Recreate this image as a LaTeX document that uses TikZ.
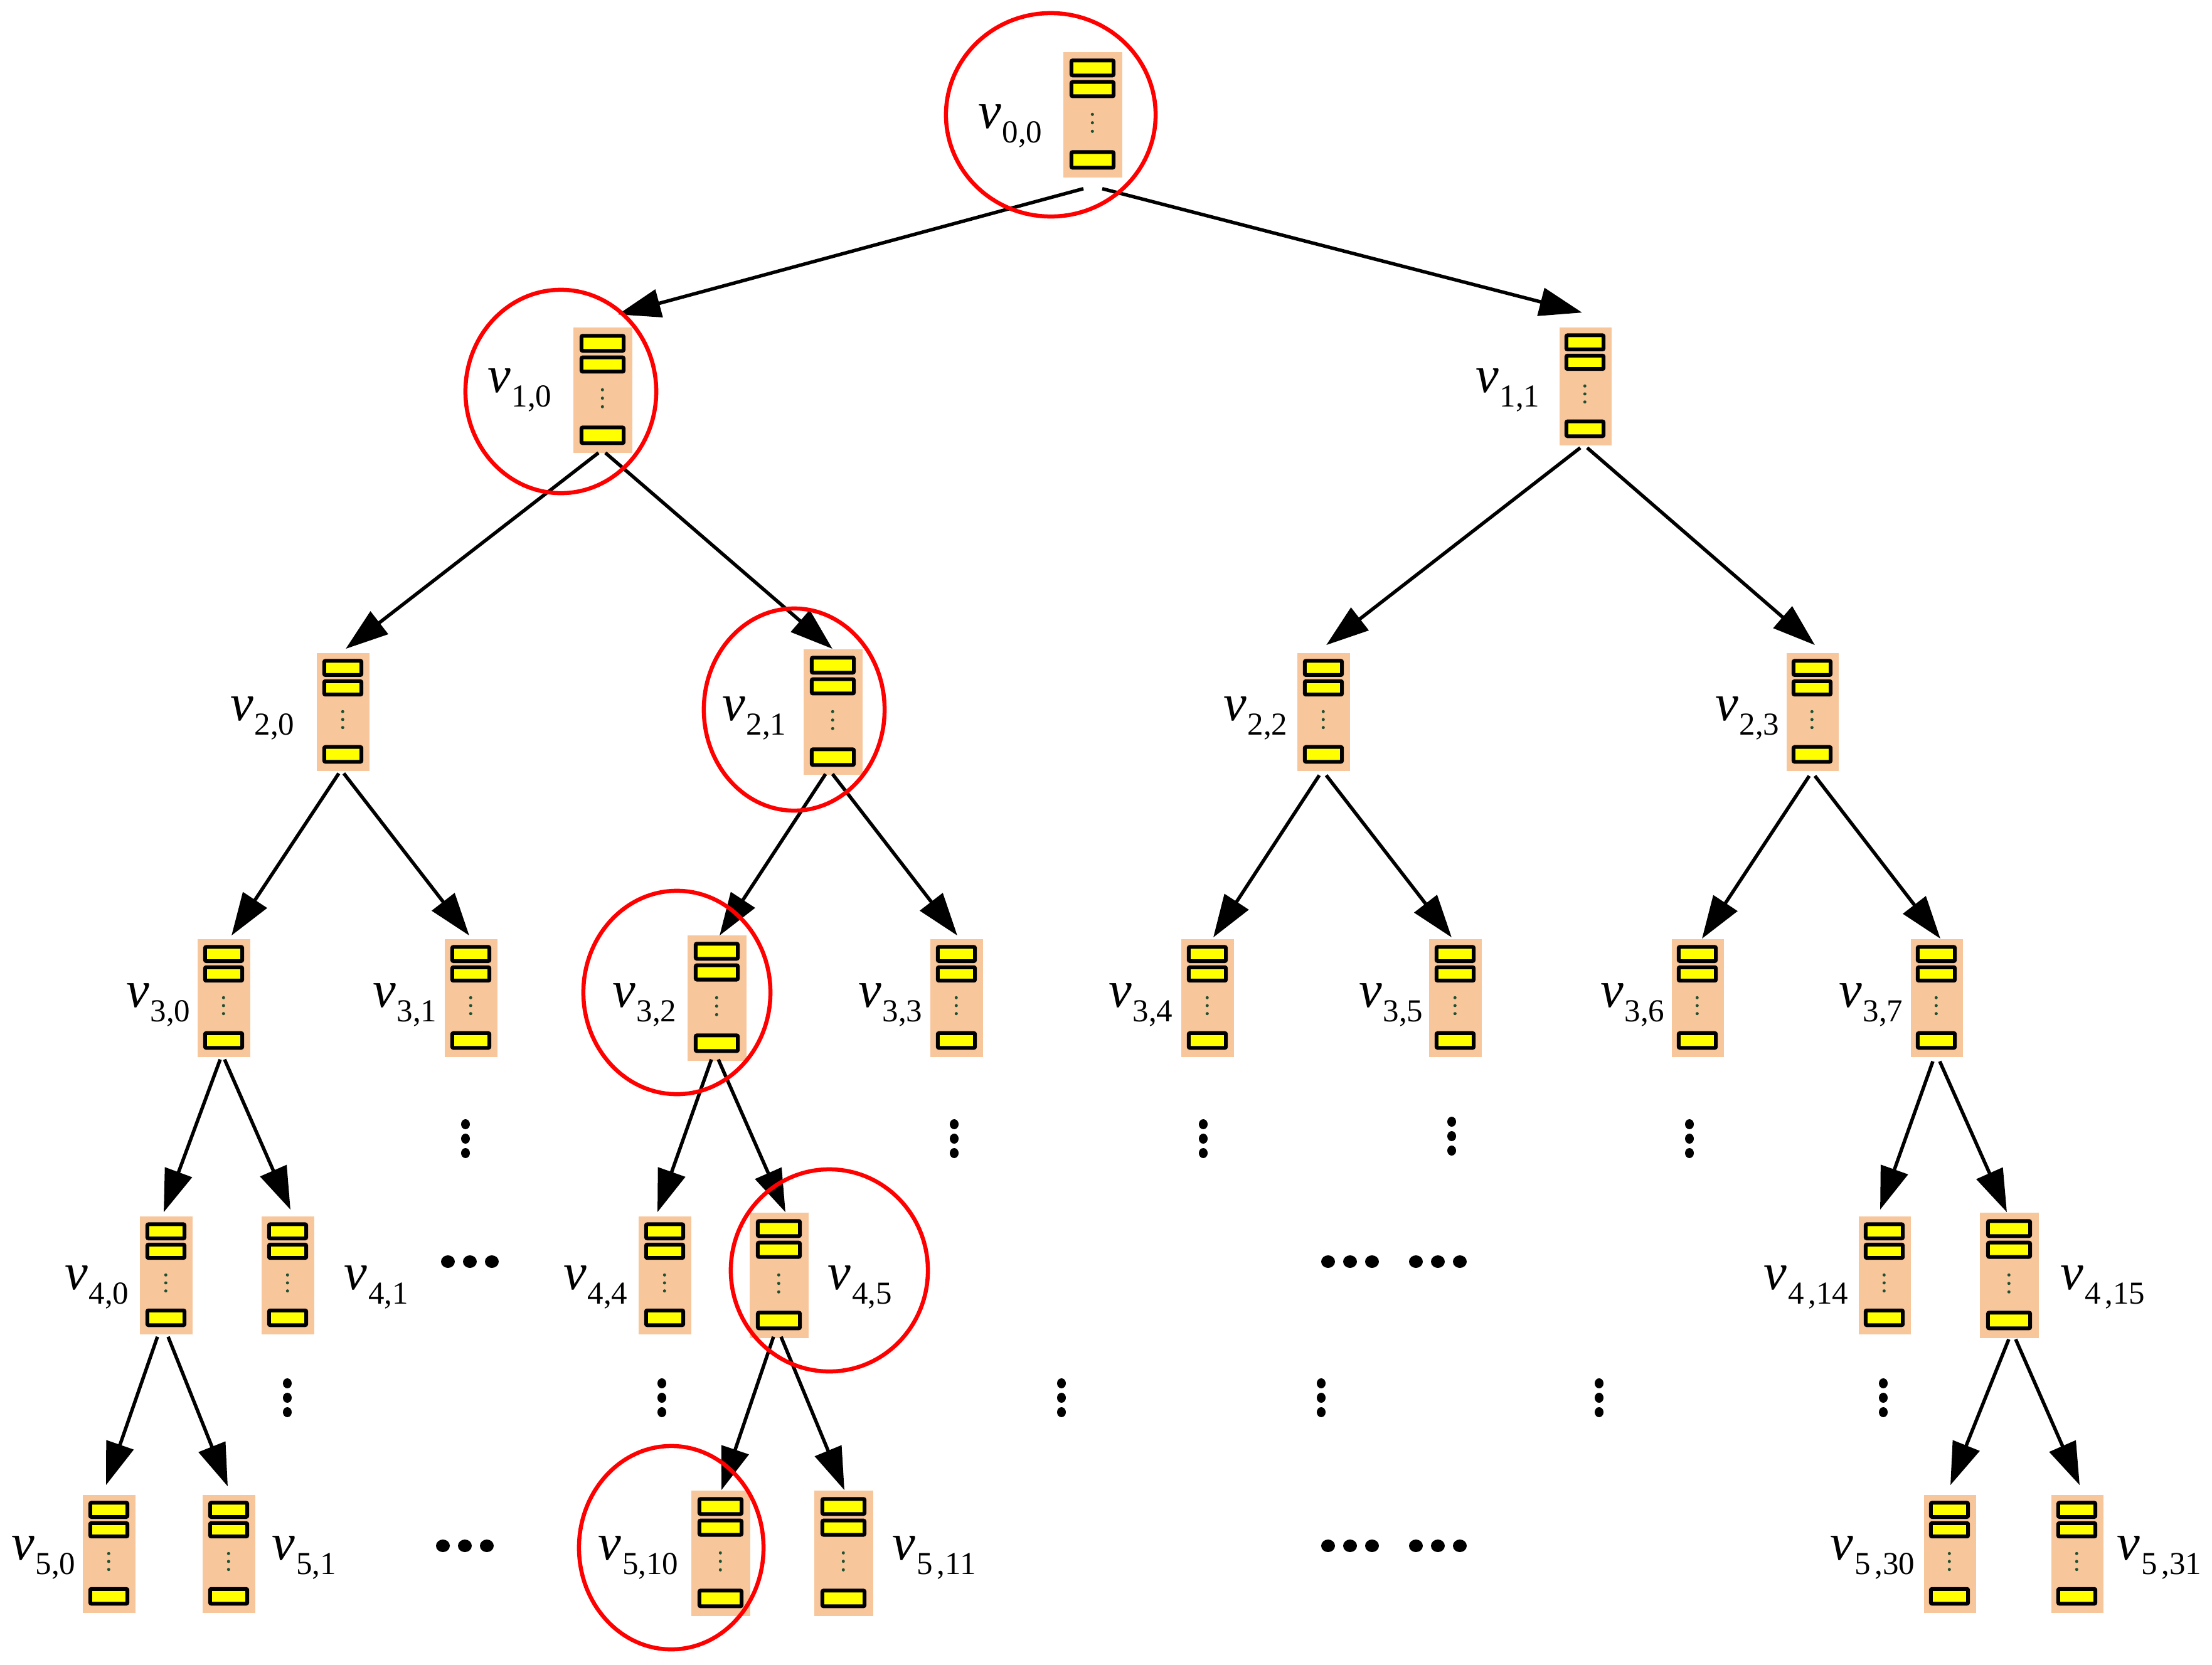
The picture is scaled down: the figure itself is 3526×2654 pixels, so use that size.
\documentclass[tikz,border=0pt]{standalone}
\usepackage{fontspec}
\setmainfont{Liberation Serif}
\usetikzlibrary{arrows.meta,calc,shapes.geometric}
\definecolor{boxfill}{RGB}{248,198,155}
\definecolor{slotyel}{RGB}{255,255,0}
\definecolor{dotgreen}{RGB}{30,80,50}
\definecolor{hlred}{RGB}{255,0,0}
\tikzset{
  srvbox/.style={rectangle, fill=boxfill, draw=none, inner sep=0pt},
  slot/.style={draw=black, fill=slotyel, line width=0.06cm, rounded corners=0.02cm},
  arr/.style={draw=black, line width=0.055cm, -{Triangle[length=0.68cm,width=0.45cm]}},
  hl/.style={ellipse, draw=hlred, line width=0.065cm, inner sep=0pt},
  lbl/.style={inner sep=0pt, font=\fontsize{23.5pt}{26pt}\selectfont},
  bigdot/.style={fill=black},
}
\newcommand{\lv}[1]{\textit{v}\kern0.5pt\raisebox{-6.8pt}{\fontsize{14.5pt}{16pt}\selectfont #1}}
\newcommand{\srv}[4]{%
  \ifnum#4=1 \def\bw{0.94cm}\def\bh{2.00cm}\else\def\bw{0.83cm}\def\bh{1.88cm}\fi
  \node[srvbox, minimum width=\bw, minimum height=\bh] (#1) at (#2,#3) {};
  \begin{scope}[shift={(#1.north west)}, x=\bw, y=-\bh]
    \draw[slot] (0.145,0.07) rectangle (0.86,0.19);
    \draw[slot] (0.145,0.242) rectangle (0.86,0.356);
    \draw[slot] (0.145,0.80) rectangle (0.86,0.925);
    \fill[dotgreen] (0.5,0.50) circle[radius=0.025cm];
    \fill[dotgreen] (0.5,0.567) circle[radius=0.025cm];
    \fill[dotgreen] (0.5,0.635) circle[radius=0.025cm];
  \end{scope}}
\newcommand{\hdots}[2]{%
  \fill[bigdot] (#1-35,#2) ellipse[x radius=0.11cm, y radius=0.10cm];
  \fill[bigdot] (#1,#2) ellipse[x radius=0.11cm, y radius=0.10cm];
  \fill[bigdot] (#1+35,#2) ellipse[x radius=0.11cm, y radius=0.10cm];}
\newcommand{\vdotsc}[2]{%
  \fill[bigdot] (#1,#2-23) ellipse[x radius=0.07cm, y radius=0.08cm];
  \fill[bigdot] (#1,#2) ellipse[x radius=0.07cm, y radius=0.08cm];
  \fill[bigdot] (#1,#2+23) ellipse[x radius=0.07cm, y radius=0.08cm];}
\begin{document}
\begin{tikzpicture}[x=0.01cm, y=-0.01cm]
\useasboundingbox (0,0) rectangle (3526,2654);
% servers
\srv{n00}{1742}{183}{1}
\srv{n10}{961}{622}{1}
\srv{n11}{2527}{616}{0}
\srv{n20}{547}{1135}{0}
\srv{n21}{1328}{1135}{1}
\srv{n22}{2110}{1135}{0}
\srv{n23}{2889}{1135}{0}
\srv{n30}{357}{1591}{0}
\srv{n31}{751}{1591}{0}
\srv{n32}{1143}{1591}{1}
\srv{n33}{1525}{1591}{0}
\srv{n34}{1925}{1591}{0}
\srv{n35}{2320}{1591}{0}
\srv{n36}{2706}{1591}{0}
\srv{n37}{3087}{1591}{0}
\srv{n40}{265}{2033}{0}
\srv{n41}{459}{2033}{0}
\srv{n44}{1060}{2033}{0}
\srv{n45}{1242}{2033}{1}
\srv{n414}{3004}{2033}{0}
\srv{n415}{3203}{2033}{1}
\srv{n50}{174}{2477}{0}
\srv{n51}{365}{2477}{0}
\srv{n510}{1149}{2476}{1}
\srv{n511}{1345}{2476}{1}
\srv{n530}{3108}{2477}{0}
\srv{n531}{3311}{2477}{0}
% labels
\node[lbl, anchor=base east] (l00) at (1662,204) {\lv{0,0}};
\node[lbl, anchor=base east] (l10) at (880,625) {\lv{1,0}};
\node[lbl, anchor=base east] (l11) at (2455,625) {\lv{1,1}};
\node[lbl, anchor=base east] (l20) at (470,1148) {\lv{2,0}};
\node[lbl, anchor=base east] (l21) at (1254,1148) {\lv{2,1}};
\node[lbl, anchor=base east] (l22) at (2053,1148) {\lv{2,2}};
\node[lbl, anchor=base east] (l23) at (2837,1148) {\lv{2,3}};
\node[lbl, anchor=base east] (l30) at (304,1605) {\lv{3,0}};
\node[lbl, anchor=base east] (l31) at (697,1605) {\lv{3,1}};
\node[lbl, anchor=base east] (l32) at (1079,1605) {\lv{3,2}};
\node[lbl, anchor=base east] (l33) at (1471,1605) {\lv{3,3}};
\node[lbl, anchor=base east] (l34) at (1870,1605) {\lv{3,4}};
\node[lbl, anchor=base east] (l35) at (2269,1605) {\lv{3,5}};
\node[lbl, anchor=base east] (l36) at (2654,1605) {\lv{3,6}};
\node[lbl, anchor=base east] (l37) at (3034,1605) {\lv{3,7}};
\node[lbl, anchor=base east] (l40) at (206,2055) {\lv{4,0}};
\node[lbl, anchor=base west] (l41) at (548,2055) {\lv{4,1}};
\node[lbl, anchor=base east] (l44) at (1001,2055) {\lv{4,4}};
\node[lbl, anchor=base west] (l45) at (1319,2055) {\lv{4,5}};
\node[lbl, anchor=base east] (l414) at (2947,2055) {\lv{4\kern2pt,14}};
\node[lbl, anchor=base west] (l415) at (3284,2055) {\lv{4\kern2pt,15}};
\node[lbl, anchor=base east] (l50) at (121,2486) {\lv{5,0}};
\node[lbl, anchor=base west] (l51) at (433,2486) {\lv{5,1}};
\node[lbl, anchor=base east] (l510) at (1082,2486) {\lv{5,10}};
\node[lbl, anchor=base west] (l511) at (1422,2486) {\lv{5\kern2pt,11}};
\node[lbl, anchor=base east] (l530) at (3053,2486) {\lv{5\kern2pt,30}};
\node[lbl, anchor=base west] (l531) at (3374,2486) {\lv{5\kern2pt,31}};
% arrows
\draw[arr] ($(n00.south)+(-15,17)$) -- ($(n10.north)+(24,-20)$);
\draw[arr] ($(n00.south)+(15,17)$) -- ($(n11.north)+(-5,-23)$);
\draw[arr] ($(n10.south)+(-7,-1)$) -- ($(n20.north)+(4,-6)$);
\draw[arr] ($(n10.south)+(4,-1)$) -- ($(n21.north)+(-1,0)$);
\draw[arr] ($(n11.south)+(-8,3)$) -- ($(n22.north)+(4,-12)$);
\draw[arr] ($(n11.south)+(3,3)$) -- ($(n23.north)+(4,-12)$);
\draw[arr] ($(n20.south)+(-7,3)$) -- ($(n30.north)+(12,-5)$);
\draw[arr] ($(n20.south)+(1,3)$) -- ($(n31.north)+(-3,-5)$);
\draw[arr] ($(n21.south)+(-12,-2)$) -- ($(n32.north)+(4,1)$);
\draw[arr] ($(n21.south)+(-1,-2)$) -- ($(n33.north)+(1,-5)$);
\draw[arr] ($(n22.south)+(-7,6)$) -- ($(n34.north)+(9,-2)$);
\draw[arr] ($(n22.south)+(4,6)$) -- ($(n35.north)+(-6,-2)$);
\draw[arr] ($(n23.south)+(-5,7)$) -- ($(n36.north)+(7,0)$);
\draw[arr] ($(n23.south)+(4,7)$) -- ($(n37.north)+(6,0)$);
\draw[arr] ($(n30.south)+(-6,3)$) -- ($(n40.north)+(-4,-6)$);
\draw[arr] ($(n30.south)+(1,3)$) -- ($(n41.north)+(4,-10)$);
\draw[arr] ($(n32.south)+(-9,-3)$) -- ($(n44.north)+(-12,-6)$);
\draw[arr] ($(n32.south)+(2,-3)$) -- ($(n45.north)+(10,0)$);
\draw[arr] ($(n37.south)+(-6,6)$) -- ($(n414.north)+(-7,-10)$);
\draw[arr] ($(n37.south)+(5,6)$) -- ($(n415.north)+(-4,0)$);
\draw[arr] ($(n40.south)+(-14,3)$) -- ($(n50.north)+(-5,-15)$);
\draw[arr] ($(n40.south)+(3,3)$) -- ($(n51.north)+(-2,-13)$);
\draw[arr] ($(n45.south)+(-9,-3)$) -- ($(n510.north)+(1,0)$);
\draw[arr] ($(n45.south)+(3,-3)$) -- ($(n511.north)+(1,0)$);
\draw[arr] ($(n415.south)+(-1,1)$) -- ($(n530.north)+(1,-15)$);
\draw[arr] ($(n415.south)+(10,1)$) -- ($(n531.north)+(4,-15)$);
% highlight circles
\node[hl, minimum width=3.34cm, minimum height=3.24cm] (c00) at (1675,183) {};
\node[hl, minimum width=3.04cm, minimum height=3.24cm] (c10) at (894,624) {};
\node[hl, minimum width=2.88cm, minimum height=3.22cm] (c21) at (1266,1131) {};
\node[hl, minimum width=2.98cm, minimum height=3.24cm] (c32) at (1079,1582) {};
\node[hl, minimum width=3.14cm, minimum height=3.22cm] (c45) at (1322,2025) {};
\node[hl, minimum width=2.94cm, minimum height=3.24cm] (c510) at (1070,2467) {};
% ellipsis dots
\hdots{749}{2011}
\hdots{2152}{2011}
\hdots{2292}{2011}
\hdots{741}{2464}
\hdots{2152}{2464}
\hdots{2292}{2464}
\vdotsc{742}{1815}
\vdotsc{1521}{1815}
\vdotsc{1918}{1815}
\vdotsc{2314}{1811}
\vdotsc{2693}{1815}
\vdotsc{458}{2228}
\vdotsc{1055}{2228}
\vdotsc{1692}{2228}
\vdotsc{2106}{2228}
\vdotsc{2549}{2228}
\vdotsc{3002}{2228}
\end{tikzpicture}
\end{document}
